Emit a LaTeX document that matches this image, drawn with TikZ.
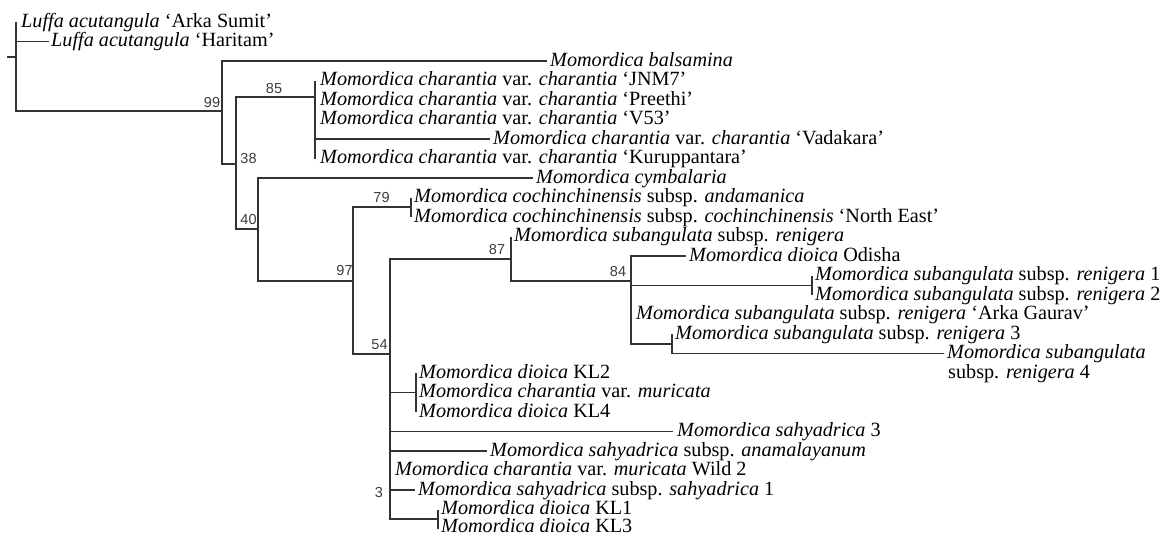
\documentclass[tikz,border=0pt]{standalone}
\usepackage{fontspec}
\setmainfont{Liberation Serif}
\newfontfamily\labfont{Liberation Sans}
\definecolor{linegray}{HTML}{333333}
\definecolor{labgray}{HTML}{3C3C3C}
\newcommand{\spn}[1]{\textit{#1}}
\begin{document}
\begin{tikzpicture}[x=1pt,y=-1pt,
  br/.style={draw=linegray, line width=1.5pt},
  leaf/.style={anchor=base west, inner sep=0pt, font=\fontsize{20.2}{22}\selectfont},
  boot/.style={font=\labfont\fontsize{14.5}{16}\selectfont, text=labgray, inner sep=0pt}]
\useasboundingbox (0,0) rectangle (1165,536);
% internal nodes
\coordinate (R0) at (7,57);
\coordinate (R) at (16,57);
\coordinate (N99) at (222,111);
\coordinate (N38) at (236,164);
\coordinate (N85) at (315,97);
\coordinate (N40) at (258,229);
\coordinate (N97) at (353,281);
\coordinate (N79) at (411,207);
\coordinate (N54) at (390,354);
\coordinate (N87) at (511,259);
\coordinate (N84) at (631,281);
\coordinate (N12) at (812,285.25);
\coordinate (N34) at (672,343.75);
\coordinate (NKL2) at (416,392.5);
\coordinate (NKL13) at (438,519);
% tips
\coordinate (c0) at (16,22);
\coordinate (c1) at (49,41.5);
\coordinate (c2) at (547,61);
\coordinate (c3) at (315,80.5);
\coordinate (c4) at (315,100);
\coordinate (c5) at (315,119.5);
\coordinate (c6) at (490,139);
\coordinate (c7) at (315,158.5);
\coordinate (c8) at (533,178);
\coordinate (c9) at (411,197.5);
\coordinate (c10) at (411,217);
\coordinate (c11) at (511,236.5);
\coordinate (c12) at (686,256);
\coordinate (c13) at (812,275.5);
\coordinate (c14) at (812,295);
\coordinate (c15) at (631,314.5);
\coordinate (c16) at (672,334);
\coordinate (c17) at (944,353.5);
\coordinate (c18) at (416,373);
\coordinate (c19) at (416,392.5);
\coordinate (c20) at (416,412);
\coordinate (c21) at (673,431.5);
\coordinate (c22) at (487,451);
\coordinate (c23) at (390,470.5);
\coordinate (c24) at (415,490);
\coordinate (c25) at (438,509.5);
\coordinate (c26) at (438,528.5);
% branches
\draw[br] (R0) -- (R);
\draw[br] (R) |- (c0);
\draw[br] (R) |- (c1);
\draw[br] (R) |- (N99);
\draw[br] (N99) |- (c2);
\draw[br] (N99) |- (N38);
\draw[br] (N38) |- (N85);
\draw[br] (N38) |- (N40);
\draw[br] (N85) |- (c3);
\draw[br] (N85) |- (c4);
\draw[br] (N85) |- (c5);
\draw[br] (N85) |- (c6);
\draw[br] (N85) |- (c7);
\draw[br] (N40) |- (c8);
\draw[br] (N40) |- (N97);
\draw[br] (N97) |- (N79);
\draw[br] (N97) |- (N54);
\draw[br] (N79) |- (c9);
\draw[br] (N79) |- (c10);
\draw[br] (N54) |- (N87);
\draw[br] (N54) |- (NKL2);
\draw[br] (N54) |- (c21);
\draw[br] (N54) |- (c22);
\draw[br] (N54) |- (c23);
\draw[br] (N54) |- (c24);
\draw[br] (N54) |- (NKL13);
\draw[br] (N87) |- (c11);
\draw[br] (N87) |- (N84);
\draw[br] (N84) |- (c12);
\draw[br] (N84) |- (N12);
\draw[br] (N84) |- (c15);
\draw[br] (N84) |- (N34);
\draw[br] (N12) |- (c13);
\draw[br] (N12) |- (c14);
\draw[br] (N34) |- (c16);
\draw[br] (N34) |- (c17);
\draw[br] (NKL2) |- (c18);
\draw[br] (NKL2) |- (c19);
\draw[br] (NKL2) |- (c20);
\draw[br] (NKL13) |- (c25);
\draw[br] (NKL13) |- (c26);
% tip labels
\node[leaf] (t0) at ([xshift=5pt,yshift=-5pt]c0) {\spn{Luffa acutangula} ‘Arka Sumit’};
\node[leaf] (t1) at ([xshift=2pt,yshift=-5pt]c1) {\spn{Luffa acutangula} ‘Haritam’};
\node[leaf] (t2) at ([xshift=3pt,yshift=-5pt]c2) {\spn{Momordica balsamina}};
\node[leaf] (t3) at ([xshift=5pt,yshift=-5pt]c3) {\spn{Momordica charantia} var. \spn{charantia} ‘JNM7’};
\node[leaf] (t4) at ([xshift=5pt,yshift=-5pt]c4) {\spn{Momordica charantia} var. \spn{charantia} ‘Preethi’};
\node[leaf] (t5) at ([xshift=5pt,yshift=-5pt]c5) {\spn{Momordica charantia} var. \spn{charantia} ‘V53’};
\node[leaf] (t6) at ([xshift=3pt,yshift=-5pt]c6) {\spn{Momordica charantia} var. \spn{charantia} ‘Vadakara’};
\node[leaf] (t7) at ([xshift=5pt,yshift=-5pt]c7) {\spn{Momordica charantia} var. \spn{charantia} ‘Kuruppantara’};
\node[leaf] (t8) at ([xshift=3pt,yshift=-5pt]c8) {\spn{Momordica cymbalaria}};
\node[leaf] (t9) at ([xshift=3pt,yshift=-5pt]c9) {\spn{Momordica cochinchinensis} subsp. \spn{andamanica}};
\node[leaf] (t10) at ([xshift=3pt,yshift=-5pt]c10) {\spn{Momordica cochinchinensis} subsp. \spn{cochinchinensis} ‘North East’};
\node[leaf] (t11) at ([xshift=3pt,yshift=-5pt]c11) {\spn{Momordica subangulata} subsp. \spn{renigera}};
\node[leaf] (t12) at ([xshift=3pt,yshift=-5pt]c12) {\spn{Momordica dioica} Odisha};
\node[leaf] (t13) at ([xshift=3pt,yshift=-5pt]c13) {\spn{Momordica subangulata} subsp. \spn{renigera} 1};
\node[leaf] (t14) at ([xshift=3pt,yshift=-5pt]c14) {\spn{Momordica subangulata} subsp. \spn{renigera} 2};
\node[leaf] (t15) at ([xshift=5pt,yshift=-5pt]c15) {\spn{Momordica subangulata} subsp. \spn{renigera} ‘Arka Gaurav’};
\node[leaf] (t16) at ([xshift=3pt,yshift=-5pt]c16) {\spn{Momordica subangulata} subsp. \spn{renigera} 3};
\node[leaf] (t17) at ([xshift=3pt,yshift=-5pt]c17) {\spn{Momordica subangulata}};
\node[leaf] (t17b) at (948,378) {subsp. \spn{renigera} 4};
\node[leaf] (t18) at ([xshift=3pt,yshift=-5pt]c18) {\spn{Momordica dioica} KL2};
\node[leaf] (t19) at ([xshift=3pt,yshift=-5pt]c19) {\spn{Momordica charantia} var. \spn{muricata}};
\node[leaf] (t20) at ([xshift=3pt,yshift=-5pt]c20) {\spn{Momordica dioica} KL4};
\node[leaf] (t21) at ([xshift=4pt,yshift=-5pt]c21) {\spn{Momordica sahyadrica} 3};
\node[leaf] (t22) at ([xshift=3pt,yshift=-5pt]c22) {\spn{Momordica sahyadrica} subsp. \spn{anamalayanum}};
\node[leaf] (t23) at ([xshift=5pt,yshift=-5pt]c23) {\spn{Momordica charantia} var. \spn{muricata} Wild 2};
\node[leaf] (t24) at ([xshift=3pt,yshift=-5pt]c24) {\spn{Momordica sahyadrica} subsp. \spn{sahyadrica} 1};
\node[leaf] (t25) at ([xshift=3pt,yshift=-5pt]c25) {\spn{Momordica dioica} KL1};
\node[leaf] (t26) at ([xshift=3pt,yshift=-4pt]c26) {\spn{Momordica dioica} KL3};
% bootstrap values
\node[boot] (b99) at (212,103) {99};
\node[boot] (b85) at (274,89) {85};
\node[boot] (b38) at (248.5,159) {38};
\node[boot] (b40) at (248.5,220) {40};
\node[boot] (b79) at (381.5,198) {79};
\node[boot] (b97) at (344.5,271) {97};
\node[boot] (b54) at (379.5,345) {54};
\node[boot] (b87) at (497,250) {87};
\node[boot] (b84) at (618,272) {84};
\node[boot] (b3) at (379,493) {3};
\end{tikzpicture}
\end{document}
